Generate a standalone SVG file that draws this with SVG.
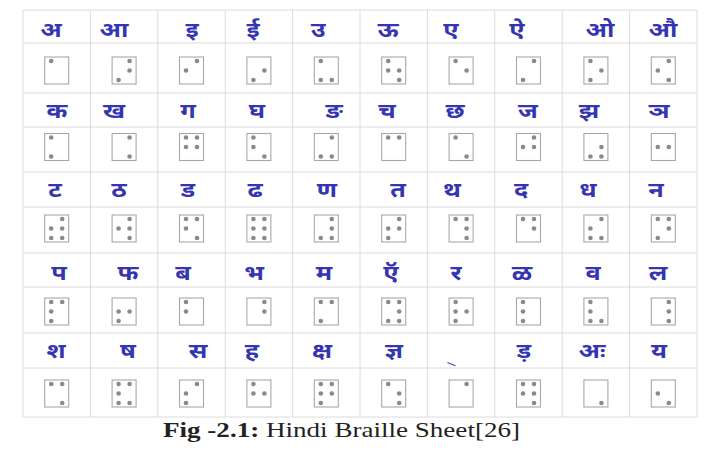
<svg xmlns="http://www.w3.org/2000/svg" xmlns:xlink="http://www.w3.org/1999/xlink" width="714" height="454" viewBox="0 0 714 454">
<style>
.l{font-family:"Noto Sans Devanagari","Lohit Devanagari","Mangal","FreeSans","Noto Sans",sans-serif;font-size:21px;font-weight:bold;fill:#3535b2;text-anchor:middle}
.g{stroke:#dcdcdc;stroke-width:1;fill:none}
.cap{font-family:"Liberation Serif","Times New Roman",serif;font-size:21px;fill:#222}
</style>
<defs>
<rect id="bx" x="-12" y="-13.5" width="24" height="27" fill="#fff" stroke="#a8a8a8" stroke-width="1.1"/>
<circle id="d1" cx="-5.5" cy="-9.5" r="2.3" fill="#8a8a8a"/>
<circle id="d2" cx="-5.5" cy="0" r="2.3" fill="#8a8a8a"/>
<circle id="d3" cx="-5.5" cy="9.5" r="2.3" fill="#8a8a8a"/>
<circle id="d4" cx="5.5" cy="-9.5" r="2.3" fill="#8a8a8a"/>
<circle id="d5" cx="5.5" cy="0" r="2.3" fill="#8a8a8a"/>
<circle id="d6" cx="5.5" cy="9.5" r="2.3" fill="#8a8a8a"/>
</defs>
<rect width="714" height="454" fill="#fff"/>
<g id="grid" class="g">
<path d="M23 10H697M23 43H697M23 93H697M23 127H697M23 172H697M23 207H697M23 253H697M23 287H697M23 333H697M23 368H697M23 417H697"/>
<path d="M23 10V417M90.4 10V417M157.8 10V417M225.2 10V417M292.6 10V417M360 10V417M427.4 10V417M494.8 10V417M562.2 10V417M629.6 10V417M697 10V417"/>
</g>
<g id="row1">
<g id="c-a"><text class="l" transform="matrix(1.2 0 0 1 51 37)">अ</text><g transform="translate(56.7,70.5)"><use href="#bx"/><use href="#d1"/></g></g>
<g id="c-aa"><text class="l" transform="matrix(1.2 0 0 1 114 37)">आ</text><g transform="translate(124.1,70.5)"><use href="#bx"/><use href="#d3"/><use href="#d4"/><use href="#d5"/></g></g>
<g id="c-i"><text class="l" transform="matrix(1.2 0 0 1 192 37)">इ</text><g transform="translate(191.5,70.5)"><use href="#bx"/><use href="#d2"/><use href="#d4"/></g></g>
<g id="c-ii"><text class="l" transform="matrix(1.2 0 0 1 253 37)">ई</text><g transform="translate(258.9,70.5)"><use href="#bx"/><use href="#d3"/><use href="#d5"/></g></g>
<g id="c-u"><text class="l" transform="matrix(1.2 0 0 1 318 37)">उ</text><g transform="translate(326.3,70.5)"><use href="#bx"/><use href="#d1"/><use href="#d3"/><use href="#d6"/></g></g>
<g id="c-uu"><text class="l" transform="matrix(1.2 0 0 1 388 37)">ऊ</text><g transform="translate(393.7,70.5)"><use href="#bx"/><use href="#d1"/><use href="#d2"/><use href="#d5"/><use href="#d6"/></g></g>
<g id="c-e"><text class="l" transform="matrix(1.2 0 0 1 451 37)">ए</text><g transform="translate(461.1,70.5)"><use href="#bx"/><use href="#d1"/><use href="#d5"/></g></g>
<g id="c-ai"><text class="l" transform="matrix(1.2 0 0 1 517 37)">ऐ</text><g transform="translate(528.5,70.5)"><use href="#bx"/><use href="#d3"/><use href="#d4"/></g></g>
<g id="c-o"><text class="l" transform="matrix(1.2 0 0 1 600 37)">ओ</text><g transform="translate(595.9,70.5)"><use href="#bx"/><use href="#d1"/><use href="#d3"/><use href="#d5"/></g></g>
<g id="c-au"><text class="l" transform="matrix(1.2 0 0 1 663 37)">औ</text><g transform="translate(663.3,70.5)"><use href="#bx"/><use href="#d2"/><use href="#d4"/><use href="#d6"/></g></g>
</g>
<g id="row2">
<g id="c-ka"><text class="l" transform="matrix(1.2 0 0 1 57 118)">क</text><g transform="translate(56.7,147)"><use href="#bx"/><use href="#d1"/><use href="#d3"/></g></g>
<g id="c-kha"><text class="l" transform="matrix(1.2 0 0 1 114 118)">ख</text><g transform="translate(124.1,147)"><use href="#bx"/><use href="#d4"/><use href="#d6"/></g></g>
<g id="c-ga"><text class="l" transform="matrix(1.2 0 0 1 188 118)">ग</text><g transform="translate(191.5,147)"><use href="#bx"/><use href="#d1"/><use href="#d2"/><use href="#d4"/><use href="#d5"/></g></g>
<g id="c-gha"><text class="l" transform="matrix(1.2 0 0 1 257 118)">घ</text><g transform="translate(258.9,147)"><use href="#bx"/><use href="#d1"/><use href="#d2"/><use href="#d6"/></g></g>
<g id="c-nga"><text class="l" transform="matrix(1.2 0 0 1 334 118)">ङ</text><g transform="translate(326.3,147)"><use href="#bx"/><use href="#d3"/><use href="#d4"/><use href="#d6"/></g></g>
<g id="c-ca"><text class="l" transform="matrix(1.2 0 0 1 387 118)">च</text><g transform="translate(393.7,147)"><use href="#bx"/><use href="#d1"/><use href="#d4"/></g></g>
<g id="c-cha"><text class="l" transform="matrix(1.2 0 0 1 455 118)">छ</text><g transform="translate(461.1,147)"><use href="#bx"/><use href="#d1"/><use href="#d6"/></g></g>
<g id="c-ja"><text class="l" transform="matrix(1.2 0 0 1 528 118)">ज</text><g transform="translate(528.5,147)"><use href="#bx"/><use href="#d2"/><use href="#d4"/><use href="#d5"/></g></g>
<g id="c-jha"><text class="l" transform="matrix(1.2 0 0 1 589 118)">झ</text><g transform="translate(595.9,147)"><use href="#bx"/><use href="#d3"/><use href="#d5"/><use href="#d6"/></g></g>
<g id="c-nya"><text class="l" transform="matrix(1.2 0 0 1 659 118)">ञ</text><g transform="translate(663.3,147)"><use href="#bx"/><use href="#d2"/><use href="#d5"/></g></g>
</g>
<g id="row3">
<g id="c-tta"><text class="l" transform="matrix(1.2 0 0 1 55 197)">ट</text><g transform="translate(56.7,228.5)"><use href="#bx"/><use href="#d2"/><use href="#d3"/><use href="#d4"/><use href="#d5"/><use href="#d6"/></g></g>
<g id="c-ttha"><text class="l" transform="matrix(1.2 0 0 1 119 197)">ठ</text><g transform="translate(124.1,228.5)"><use href="#bx"/><use href="#d2"/><use href="#d4"/><use href="#d5"/><use href="#d6"/></g></g>
<g id="c-dda"><text class="l" transform="matrix(1.2 0 0 1 188 197)">ड</text><g transform="translate(191.5,228.5)"><use href="#bx"/><use href="#d1"/><use href="#d2"/><use href="#d4"/><use href="#d6"/></g></g>
<g id="c-ddha"><text class="l" transform="matrix(1.2 0 0 1 255 197)">ढ</text><g transform="translate(258.9,228.5)"><use href="#bx"/><use href="#d1"/><use href="#d2"/><use href="#d3"/><use href="#d4"/><use href="#d5"/><use href="#d6"/></g></g>
<g id="c-nna"><text class="l" transform="matrix(1.2 0 0 1 327 197)">ण</text><g transform="translate(326.3,228.5)"><use href="#bx"/><use href="#d3"/><use href="#d4"/><use href="#d5"/><use href="#d6"/></g></g>
<g id="c-ta"><text class="l" transform="matrix(1.2 0 0 1 398 197)">त</text><g transform="translate(393.7,228.5)"><use href="#bx"/><use href="#d2"/><use href="#d3"/><use href="#d4"/><use href="#d5"/></g></g>
<g id="c-tha"><text class="l" transform="matrix(1.2 0 0 1 452 197)">थ</text><g transform="translate(461.1,228.5)"><use href="#bx"/><use href="#d1"/><use href="#d4"/><use href="#d5"/><use href="#d6"/></g></g>
<g id="c-da"><text class="l" transform="matrix(1.2 0 0 1 521 197)">द</text><g transform="translate(528.5,228.5)"><use href="#bx"/><use href="#d1"/><use href="#d4"/><use href="#d5"/></g></g>
<g id="c-dha"><text class="l" transform="matrix(1.2 0 0 1 588 197)">ध</text><g transform="translate(595.9,228.5)"><use href="#bx"/><use href="#d2"/><use href="#d3"/><use href="#d4"/><use href="#d6"/></g></g>
<g id="c-na"><text class="l" transform="matrix(1.2 0 0 1 656 197)">न</text><g transform="translate(663.3,228.5)"><use href="#bx"/><use href="#d1"/><use href="#d3"/><use href="#d4"/><use href="#d5"/></g></g>
</g>
<g id="row4">
<g id="c-pa"><text class="l" transform="matrix(1.2 0 0 1 59 280)">प</text><g transform="translate(56.7,311.5)"><use href="#bx"/><use href="#d1"/><use href="#d2"/><use href="#d3"/><use href="#d4"/></g></g>
<g id="c-pha"><text class="l" transform="matrix(1.2 0 0 1 128 280)">फ</text><g transform="translate(124.1,311.5)"><use href="#bx"/><use href="#d2"/><use href="#d3"/><use href="#d5"/></g></g>
<g id="c-ba"><text class="l" transform="matrix(1.2 0 0 1 183 280)">ब</text><g transform="translate(191.5,311.5)"><use href="#bx"/><use href="#d1"/><use href="#d2"/></g></g>
<g id="c-bha"><text class="l" transform="matrix(1.2 0 0 1 254 280)">भ</text><g transform="translate(258.9,311.5)"><use href="#bx"/><use href="#d4"/><use href="#d5"/></g></g>
<g id="c-ma"><text class="l" transform="matrix(1.2 0 0 1 324 280)">म</text><g transform="translate(326.3,311.5)"><use href="#bx"/><use href="#d1"/><use href="#d3"/><use href="#d4"/></g></g>
<g id="c-ya1"><text class="l" transform="matrix(1.2 0 0 1 391 280)">ऍ</text><g transform="translate(393.7,311.5)"><use href="#bx"/><use href="#d1"/><use href="#d3"/><use href="#d4"/><use href="#d5"/><use href="#d6"/></g></g>
<g id="c-ra"><text class="l" transform="matrix(1.2 0 0 1 456 280)">र</text><g transform="translate(461.1,311.5)"><use href="#bx"/><use href="#d1"/><use href="#d2"/><use href="#d3"/><use href="#d5"/></g></g>
<g id="c-lla"><text class="l" transform="matrix(1.2 0 0 1 522 280)">ळ</text><g transform="translate(528.5,311.5)"><use href="#bx"/><use href="#d1"/><use href="#d2"/><use href="#d3"/></g></g>
<g id="c-va"><text class="l" transform="matrix(1.2 0 0 1 593 280)">व</text><g transform="translate(595.9,311.5)"><use href="#bx"/><use href="#d1"/><use href="#d2"/><use href="#d3"/><use href="#d6"/></g></g>
<g id="c-la"><text class="l" transform="matrix(1.2 0 0 1 658 280)">ल</text><g transform="translate(663.3,311.5)"><use href="#bx"/><use href="#d4"/><use href="#d5"/><use href="#d6"/></g></g>
</g>
<g id="row5">
<g id="c-sha"><text class="l" transform="matrix(1.2 0 0 1 56 358)">श</text><g transform="translate(56.7,393.5)"><use href="#bx"/><use href="#d1"/><use href="#d4"/><use href="#d6"/></g></g>
<g id="c-ssa"><text class="l" transform="matrix(1.2 0 0 1 128 358)">ष</text><g transform="translate(124.1,393.5)"><use href="#bx"/><use href="#d1"/><use href="#d2"/><use href="#d3"/><use href="#d4"/><use href="#d6"/></g></g>
<g id="c-sa"><text class="l" transform="matrix(1.2 0 0 1 198 358)">स</text><g transform="translate(191.5,393.5)"><use href="#bx"/><use href="#d2"/><use href="#d3"/><use href="#d4"/></g></g>
<g id="c-ha"><text class="l" transform="matrix(1.2 0 0 1 252 358)">ह</text><g transform="translate(258.9,393.5)"><use href="#bx"/><use href="#d1"/><use href="#d2"/><use href="#d5"/></g></g>
<g id="c-ksha"><text class="l" transform="matrix(1.2 0 0 1 322 358)">क्ष</text><g transform="translate(326.3,393.5)"><use href="#bx"/><use href="#d1"/><use href="#d2"/><use href="#d3"/><use href="#d4"/><use href="#d5"/></g></g>
<g id="c-jnya"><text class="l" transform="matrix(1.2 0 0 1 394 358)">ज्ञ</text><g transform="translate(393.7,393.5)"><use href="#bx"/><use href="#d1"/><use href="#d5"/><use href="#d6"/></g></g>
<g id="c-hal"><text class="l" transform="translate(450,368) rotate(22)" style="font-family:'Liberation Sans',sans-serif;font-size:16px;font-weight:normal;fill:#5555b5">–</text><g transform="translate(461.1,393.5)"><use href="#bx"/><use href="#d4"/></g></g>
<g id="c-rra"><text class="l" transform="matrix(1.2 0 0 1 524 358)">ड़</text><g transform="translate(528.5,393.5)"><use href="#bx"/><use href="#d1"/><use href="#d2"/><use href="#d4"/><use href="#d5"/><use href="#d6"/></g></g>
<g id="c-ah"><text class="l" transform="matrix(1.2 0 0 1 592 358)">अः</text><g transform="translate(595.9,393.5)"><use href="#bx"/><use href="#d6"/></g></g>
<g id="c-ya"><text class="l" transform="matrix(1.2 0 0 1 659 358)">य</text><g transform="translate(663.3,393.5)"><use href="#bx"/><use href="#d2"/><use href="#d6"/></g></g>
</g>
<text class="cap" x="163" y="437" textLength="357" lengthAdjust="spacingAndGlyphs"><tspan font-weight="bold">Fig -2.1:</tspan> Hindi Braille Sheet[26]</text>
</svg>
